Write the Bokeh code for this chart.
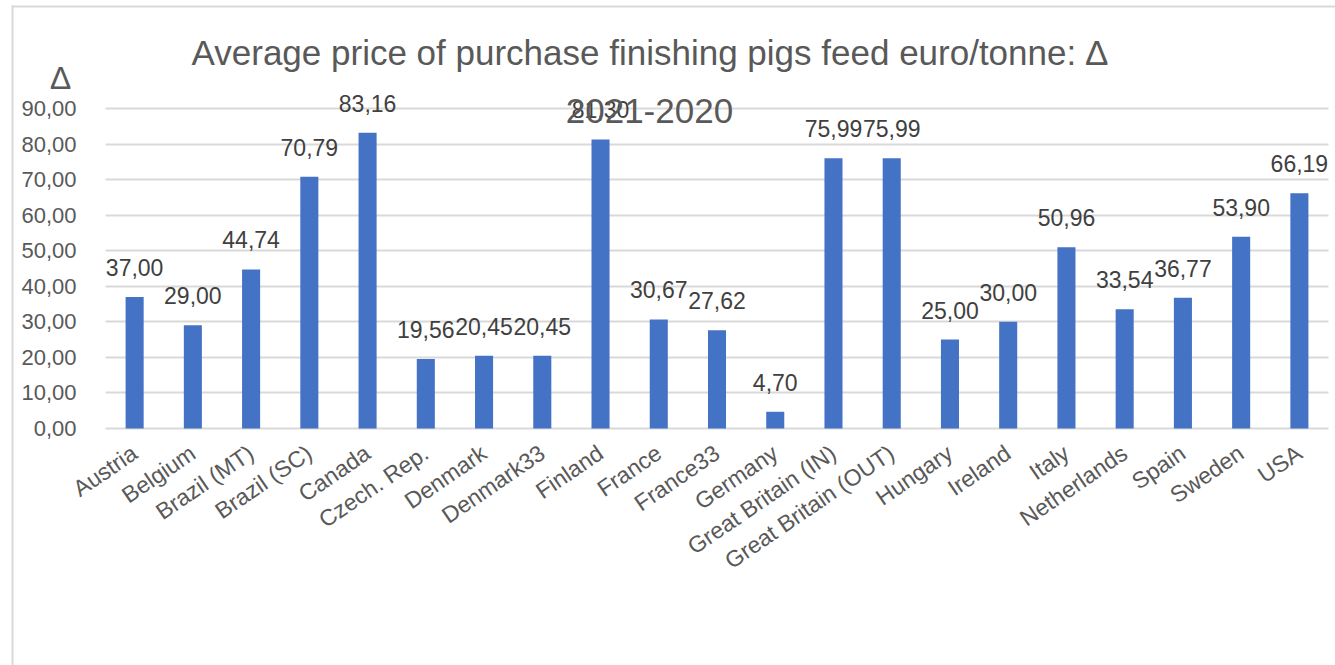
from bokeh.plotting import figure
from bokeh.models import (ColumnDataSource, Range1d, FixedTicker,
                          CustomJSTickFormatter, LabelSet, Label, BoxAnnotation)
from bokeh.core.properties import value
from bokeh.embed import file_html
from bokeh.resources import INLINE

countries = ["Austria", "Belgium", "Brazil (MT)", "Brazil (SC)", "Canada", "Czech. Rep.",
             "Denmark", "Denmark33", "Finland", "France", "France33", "Germany",
             "Great Britain (IN)", "Great Britain (OUT)", "Hungary", "Ireland", "Italy",
             "Netherlands", "Spain", "Sweden", "USA"]
delta = [37.00, 29.00, 44.74, 70.79, 83.16, 19.56, 20.45, 20.45, 81.30, 30.67, 27.62, 4.70,
         75.99, 75.99, 25.00, 30.00, 50.96, 33.54, 36.77, 53.90, 66.19]
y_ticks = [0, 10, 20, 30, 40, 50, 60, 70, 80, 90]
title_line1 = "Average price of purchase finishing pigs feed euro/tonne: \u2206"
title_line2 = "2021-2020"
axis_symbol = "\u2206"

FONT = "Liberation Sans"
TXT = "#595959"

xi = list(range(len(countries)))
labels = [f"{v:.2f}".replace(".", ",") for v in delta]
src = ColumnDataSource(dict(x=xi, val=delta, lab=labels))

W, H = 1335, 665
p = figure(width=W, height=H, output_backend="svg", toolbar_location=None,
           x_range=Range1d(-2.303, 20.62), y_range=Range1d(-66.66, 120.37),
           min_border_left=0, min_border_right=0, min_border_top=0,
           min_border_bottom=0)
p.outline_line_color = None
p.background_fill_color = "white"
p.border_fill_color = "white"

# gridlines (limited to the category span)
p.ygrid.ticker = FixedTicker(ticks=y_ticks)
p.ygrid.grid_line_color = "#D9D9D9"
p.ygrid.grid_line_width = 2
p.xgrid.grid_line_color = None
try:
    p.ygrid.cross_bounds = (-0.5, len(countries) - 0.5)
except Exception:
    p.ygrid.grid_line_color = None
    p.segment(x0=[-0.5] * len(y_ticks), x1=[len(countries) - 0.5] * len(y_ticks),
              y0=y_ticks, y1=y_ticks, line_color="#D9D9D9", line_width=2, level="underlay")

p.vbar(x="x", top="val", source=src, width=0.31, color="#4472C4", line_color=None)

# y axis (labels drawn inside the frame)
p.yaxis.ticker = FixedTicker(ticks=y_ticks)
p.yaxis.formatter = CustomJSTickFormatter(code="return tick.toFixed(2).replace('.', ',');")
p.yaxis.axis_line_color = None
p.yaxis.major_tick_line_color = None
p.yaxis.minor_tick_line_color = None
p.yaxis.major_tick_out = 0
p.yaxis.major_tick_in = 0
p.yaxis.major_label_standoff = -76
p.yaxis.major_label_text_font = FONT
p.yaxis.major_label_text_font_size = "22px"
p.yaxis.major_label_text_color = TXT

# x axis (labels drawn inside the frame, under the zero line)
p.xaxis.ticker = FixedTicker(ticks=xi)
p.xaxis.formatter = CustomJSTickFormatter(args=dict(names=countries),
                                          code="const i = Math.round(tick); return (i >= 0 && i < names.length) ? names[i] : '';")
p.xaxis.axis_line_color = None
p.xaxis.major_tick_line_color = None
p.xaxis.minor_tick_line_color = None
p.xaxis.major_tick_out = 0
p.xaxis.major_tick_in = 0
p.xaxis.major_label_orientation = 0.60
p.xaxis.major_label_standoff = -215
p.xaxis.major_label_text_font = FONT
p.xaxis.major_label_text_font_size = "23px"
p.xaxis.major_label_text_color = TXT

# data labels
p.add_layout(LabelSet(x="x", y="val", text="lab", source=src, y_offset=21,
                      text_align="center", text_baseline="alphabetic",
                      text_font=value(FONT), text_font_size=value("23px"),
                      text_color="#404040"))

# titles
p.add_layout(Label(x=8.84, y=105.75, text=title_line1, text_align="center",
                   text_baseline="alphabetic", text_font=FONT,
                   text_font_size="35px", text_color=TXT))
p.add_layout(Label(x=8.84, y=89.4, text=title_line2, text_align="center",
                   text_baseline="alphabetic", text_font=FONT,
                   text_font_size="35px", text_color=TXT))
p.add_layout(Label(x=-1.273, y=98.5, text=axis_symbol, text_align="center",
                   text_baseline="alphabetic", text_font=FONT,
                   text_font_size="32px", text_color=TXT))

# outer chart border (top and left)
try:
    p.add_layout(BoxAnnotation(left=11, right=13, top=5, bottom=H,
                               left_units="canvas", right_units="canvas",
                               top_units="canvas", bottom_units="canvas",
                               fill_color="#D9D9D9", fill_alpha=1, line_color=None,
                               level="overlay"))
    p.add_layout(BoxAnnotation(left=11, right=W, top=5, bottom=7,
                               left_units="canvas", right_units="canvas",
                               top_units="canvas", bottom_units="canvas",
                               fill_color="#D9D9D9", fill_alpha=1, line_color=None,
                               level="overlay"))
except Exception:
    pass

open("out.html", "w").write(file_html(p, INLINE))
